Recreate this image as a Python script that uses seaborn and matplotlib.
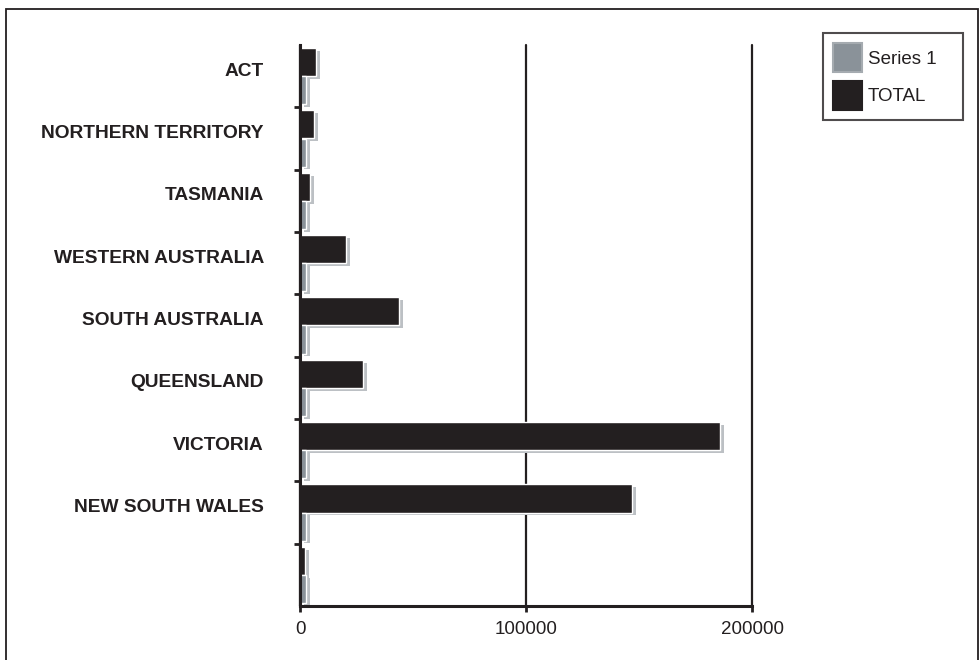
import numpy as np
import pandas as pd
import matplotlib
matplotlib.use("Agg")
import matplotlib.pyplot as plt
import matplotlib.patheffects as pe
import matplotlib.transforms as mtransforms
from matplotlib.patches import Patch, Rectangle
import seaborn as sns

# Datos
states = ["ACT", "NORTHERN TERRITORY", "TASMANIA", "WESTERN AUSTRALIA",
          "SOUTH AUSTRALIA", "QUEENSLAND", "VICTORIA", "NEW SOUTH WALES", ""]
total = [7200, 6300, 4500, 20500, 43900, 28000, 185700, 146800, 2300]
series1 = [2800, 2800, 2800, 2800, 2800, 2800, 2800, 2800, 2800]
series_names = ["Series 1", "TOTAL"]
x_ticks = [0, 100000, 200000]

dark = "#231f20"
grey = "#8a9299"
shadow = "#bcc0c4"

df = pd.DataFrame({
    "state": states * 2,
    "serie": ["TOTAL"] * len(states) + ["Series 1"] * len(states),
    "valor": total + series1,
})

sns.set_theme(style="white")
plt.rcParams["font.family"] = ["Liberation Sans", "DejaVu Sans"]

fig = plt.figure(figsize=(9.8, 6.6), dpi=100)
ax = fig.add_axes([300 / 980, 1 - 606 / 660, 452 / 980, 561 / 660])

sns.barplot(data=df, y="state", x="valor", hue="serie", order=states,
            hue_order=["TOTAL", "Series 1"], palette={"TOTAL": dark, "Series 1": grey},
            orient="h", width=0.9, ax=ax, legend=False, saturation=1)

# Efecto de sombra tipo Excel
for bar in ax.patches:
    bar.set_path_effects([pe.SimplePatchShadow(offset=(3, -2), shadow_rgbFace=shadow, alpha=1),
                          pe.Normal()])

ax.set_xlim(0, 200000)
ax.set_ylim(len(states) - 0.5, -0.5)
ax.set_xticks(x_ticks)
ax.set_xticklabels([str(t) for t in x_ticks], fontsize=13.5, color=dark)
ax.set_xlabel("")
ax.set_ylabel("")

ax.xaxis.grid(True, color=dark, linewidth=1.6)
ax.yaxis.grid(False)
ax.set_axisbelow(True)
for gl in ax.get_xgridlines():
    gl.set_clip_on(False)

for s in ["top", "right"]:
    ax.spines[s].set_visible(False)
for s in ["left", "bottom"]:
    ax.spines[s].set_color(dark)
    ax.spines[s].set_linewidth(2.2)

ax.tick_params(axis="x", bottom=True, length=4, width=2, color=dark, pad=7)
ax.tick_params(axis="y", which="major", left=False, pad=20)
ax.set_yticks(np.arange(0.5, len(states) - 1, 1), minor=True)
ax.tick_params(axis="y", which="minor", left=True, length=4, width=2, color=dark)

offset = mtransforms.ScaledTranslation(0, 5 / 72, fig.dpi_scale_trans)
for lbl in ax.get_yticklabels():
    lbl.set_fontsize(13.8)
    lbl.set_fontweight("bold")
    lbl.set_color(dark)
    lbl.set_transform(lbl.get_transform() + offset)

handles = [Patch(facecolor=grey, edgecolor="#a5abb0", linewidth=1.5),
           Patch(facecolor=dark, edgecolor=dark, linewidth=1.5)]
leg = fig.legend(handles, series_names, loc="upper left",
                 bbox_to_anchor=(823 / 980, 1 - 121 / 660, 140 / 980, 88 / 660),
                 mode="expand", frameon=True, fancybox=False,
                 fontsize=13.5, handlelength=1.55, handleheight=2.0, handletextpad=0.3,
                 borderpad=0.55, labelspacing=0.45, borderaxespad=0)
leg.get_frame().set_edgecolor(dark)
leg.get_frame().set_linewidth(1.5)
for t in leg.get_texts():
    t.set_color(dark)

# Marco exterior
fig.patches.append(Rectangle((6 / 980, -0.02), 972 / 980, 1 - 9 / 660 + 0.02,
                             transform=fig.transFigure, fill=False,
                             edgecolor=dark, linewidth=1.3))

fig.savefig("out.png", dpi=100)
